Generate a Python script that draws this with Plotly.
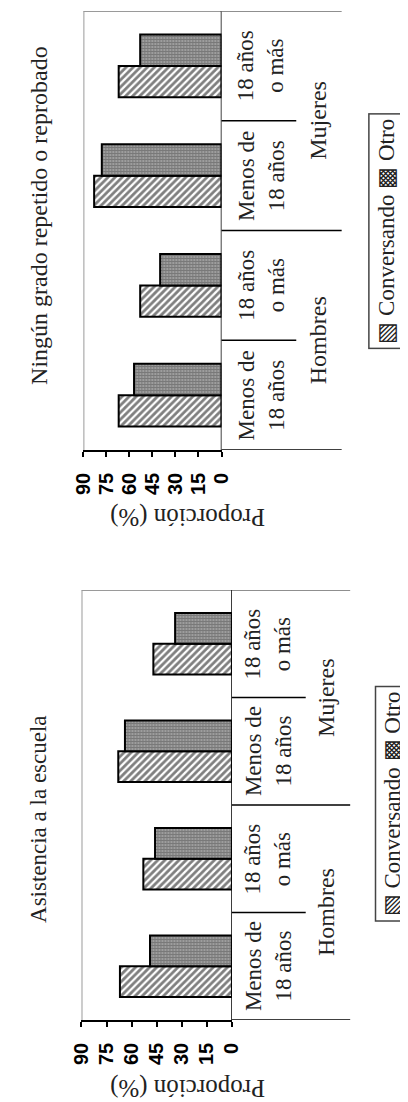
import plotly.graph_objects as go

W, H = 408, 1102

# ---------------- data ----------------
groups = ["Hombres", "Hombres", "Mujeres", "Mujeres"]
ages = ["Menos de<br>18 años", "18 años<br>o más", "Menos de<br>18 años", "18 años<br>o más"]
categories = ["Hombres, menos de 18 años", "Hombres, 18 años o más",
              "Mujeres, menos de 18 años", "Mujeres, 18 años o más"]
series_names = ["Conversando", "Otro"]

ningun_conversando = [67, 53, 83, 67]
ningun_otro = [57, 40, 78, 53]
asistencia_conversando = [67, 53, 68, 47]
asistencia_otro = [49, 46, 64, 34]

tick_vals = [0, 15, 30, 45, 60, 75, 90]
tick_text = ["0", "15", "30", "45", "60", "75", "90"]
title_ningun = "Ningún grado repetido o reprobado"
title_asistencia = "Asistencia a la escuela"
value_title = "Proporción (%)"
legend_text = "▧ Conversando ▩ Otro"


def px(x):
    return x / W


def py(y):
    return 1 - y / H


SERIF = "Liberation Serif"
SANS = "Liberation Sans"

panels = [
    dict(xa="x", ya="y", title=title_ningun, conv=ningun_conversando, otro=ningun_otro,
         left=67, zero=213, top=3, bottom=442, ext_long=340, ext_short=292,
         age_x=255, group_x=315, title_pos=(20, 207), title_size=24,
         legend_pos=(387, 223), prop_pos=(177, 509)),
    dict(xa="x2", ya="y2", title=title_asistencia, conv=asistencia_conversando, otro=asistencia_otro,
         left=65, zero=224, top=582, bottom=1012, ext_long=349, ext_short=302,
         age_x=262, group_x=323, title_pos=(19, 811), title_size=23,
         legend_pos=(394, 796), prop_pos=(177, 1080)),
]

fig = go.Figure()
shapes = []
annotations = []

for i, p in enumerate(panels):
    fig.add_trace(go.Bar(
        y=categories, x=p["conv"], orientation="h", name=series_names[0],
        xaxis=p["xa"], yaxis=p["ya"], showlegend=False,
        marker=dict(color="white", line=dict(color="black", width=2),
                    pattern=dict(shape="/", fgcolor="black", bgcolor="white",
                                 size=5, solidity=0.55)),
    ))
    fig.add_trace(go.Bar(
        y=categories, x=p["otro"], orientation="h", name=series_names[1],
        xaxis=p["xa"], yaxis=p["ya"], showlegend=False,
        marker=dict(color="white", line=dict(color="black", width=2),
                    pattern=dict(shape=".", fgcolor="black", bgcolor="#f2f2f2",
                                 size=3, solidity=0.8)),
    ))

    xkey = "xaxis" if p["xa"] == "x" else "xaxis2"
    ykey = "yaxis" if p["ya"] == "y" else "yaxis2"
    fig.update_layout({
        xkey: dict(domain=[px(p["left"]), px(p["zero"])], range=[90, 0], anchor=p["ya"],
                   showgrid=False, zeroline=False, showline=True, linecolor="black",
                   linewidth=1.5, ticks="outside", ticklen=5, tickcolor="black",
                   tickwidth=1.5, tickvals=tick_vals, ticktext=tick_text, tickangle=-90,
                   ticklabelstandoff=8,
                   tickfont=dict(family=SANS, size=20, color="black", weight="bold"),
                   fixedrange=True),
        ykey: dict(domain=[py(p["bottom"]), py(p["top"])], anchor=p["xa"],
                   type="category", categoryorder="array", categoryarray=categories,
                   range=[-0.5, len(categories) - 0.5], showticklabels=False,
                   showgrid=False, zeroline=False, showline=False, ticks="",
                   fixedrange=True),
    })

    # plot frame (grey) on left/top
    shapes.append(dict(type="line", xref=p["xa"], yref=p["ya"], x0=90, x1=90,
                       y0=-0.5, y1=len(categories) - 0.5,
                       line=dict(color="#9a9a9a", width=2)))
    shapes.append(dict(type="line", xref=p["xa"], yref=p["ya"], x0=90, x1=0,
                       y0=len(categories) - 0.5, y1=len(categories) - 0.5,
                       line=dict(color="#9a9a9a", width=2)))
    # zero line
    shapes.append(dict(type="line", xref=p["xa"], yref=p["ya"], x0=0, x1=0,
                       y0=-0.5, y1=len(categories) - 0.5,
                       line=dict(color="black", width=1.5)))
    # category separators extending to the right
    for b in range(len(categories) + 1):
        yb = b - 0.5
        long = (b % 2 == 0)
        x1 = p["ext_long"] if long else p["ext_short"]
        col = "#6a6a6a" if b == len(categories) else "black"
        shapes.append(dict(type="line", xref="paper", yref=p["ya"],
                           x0=px(p["zero"]), x1=px(x1), y0=yb, y1=yb,
                           line=dict(color=col, width=1.3)))

    # category labels
    for k, a in enumerate(ages):
        annotations.append(dict(xref="paper", yref=p["ya"], x=px(p["age_x"]), y=k,
                                text=a, showarrow=False, textangle=-90,
                                xanchor="center", yanchor="middle",
                                font=dict(family=SERIF, size=23, color="#222")))
    for g_idx in range(0, len(groups), 2):
        annotations.append(dict(xref="paper", yref=p["ya"], x=px(p["group_x"]),
                                y=g_idx + 0.5, text=groups[g_idx], showarrow=False,
                                textangle=-90, xanchor="center", yanchor="middle",
                                font=dict(family=SERIF, size=24, color="#222")))
    # title
    annotations.append(dict(xref="paper", yref="paper", x=px(p["title_pos"][0]),
                            y=py(p["title_pos"][1]), text=p["title"], showarrow=False,
                            textangle=-90, xanchor="center", yanchor="middle",
                            font=dict(family=SERIF, size=p["title_size"], color="#222")))
    # value-axis title (upside down)
    annotations.append(dict(xref="paper", yref="paper", x=px(p["prop_pos"][0]),
                            y=py(p["prop_pos"][1]), text=value_title, showarrow=False,
                            textangle=180, xanchor="center", yanchor="middle",
                            font=dict(family=SERIF, size=25, color="#222")))
    # legend
    annotations.append(dict(xref="paper", yref="paper", x=px(p["legend_pos"][0]),
                            y=py(p["legend_pos"][1]), text=legend_text, showarrow=False,
                            textangle=-90, xanchor="center", yanchor="middle",
                            bordercolor="#444", borderwidth=1.5, borderpad=4,
                            bgcolor="white",
                            font=dict(family=SERIF, size=23, color="#222")))

fig.update_layout(
    width=W, height=H, margin=dict(l=0, r=0, t=0, b=0),
    paper_bgcolor="white", plot_bgcolor="white",
    barmode="group", bargap=0.43, bargroupgap=0,
    shapes=shapes, annotations=annotations, showlegend=False,
)

fig.write_html("out.html")
